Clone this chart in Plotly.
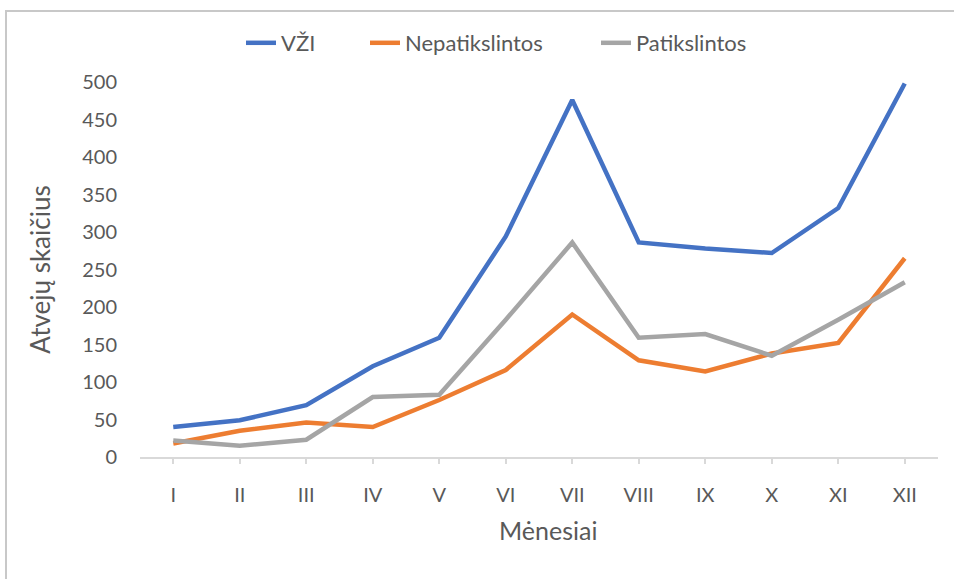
import plotly.graph_objects as go

months = ["I", "II", "III", "IV", "V", "VI", "VII", "VIII", "IX", "X", "XI", "XII"]
vzi = [40, 49, 69, 121, 159, 294, 476, 286, 278, 272, 332, 498]
nepatikslintos = [18, 35, 46, 40, 76, 116, 190, 129, 114, 138, 152, 265]
patikslintos = [22, 15, 23, 80, 83, 183, 286, 159, 164, 135, 183, 233]
y_ticks = [0, 50, 100, 150, 200, 250, 300, 350, 400, 450, 500]
series_names = ["VŽI", "Nepatikslintos", "Patikslintos"]

FONT = "Lato"
GREY_TXT = "#595959"
colors = ["#4472C4", "#ED7D31", "#A5A5A5"]
legend_ids = ["legend", "legend2", "legend3"]
legend_text_x = [281, 405, 636]  # reference pixel x where legend text starts

W, H = 954, 579
L, T = 140, 82
pw, ph = 798, 375
R, B = W - L - pw, H - T - ph

def px(x):
    return (x - L) / pw

def py(y):
    return (T + ph - y) / ph

fig = go.Figure()
for name, vals, col, lg in zip(series_names, [vzi, nepatikslintos, patikslintos], colors, legend_ids):
    fig.add_trace(go.Scatter(x=months, y=vals, name=name, mode="lines", legend=lg,
                             line=dict(color=col, width=4.5)))

legend_common = dict(orientation="h", yanchor="middle", xanchor="left",
                     font=dict(family=FONT, size=22, color=GREY_TXT),
                     bgcolor="rgba(0,0,0,0)", borderwidth=0)
legends = {}
for lg, tx in zip(legend_ids, legend_text_x):
    legends[lg] = dict(legend_common, x=px(tx - 40), y=py(43))

fig.update_layout(
    width=W, height=H,
    margin=dict(l=L, r=R, t=T, b=B),
    paper_bgcolor="white", plot_bgcolor="white",
    font=dict(family=FONT, size=20, color=GREY_TXT),
    showlegend=True,
    **legends,
    xaxis=dict(type="category", range=[-0.5, 11.5], showgrid=False, zeroline=False,
               showline=True, linecolor="#d9d9d9", linewidth=1.5,
               ticks="outside", ticklen=5, tickcolor="#d9d9d9", tickwidth=1.5,
               tickfont=dict(family=FONT, size=20, color=GREY_TXT), ticklabelstandoff=14),
    yaxis=dict(range=[0, 500], tickvals=y_ticks, showgrid=False, zeroline=False,
               showline=False, ticks="",
               tickfont=dict(family=FONT, size=20, color=GREY_TXT), ticklabelstandoff=22,
               title=dict(text="Atvejų skaičius", font=dict(family=FONT, size=26, color=GREY_TXT),
                          standoff=24)),
    annotations=[dict(text="Mėnesiai", xref="paper", yref="paper", x=px(548), y=py(530),
                      xanchor="center", yanchor="middle", showarrow=False,
                      font=dict(family=FONT, size=25, color=GREY_TXT))],
    shapes=[dict(type="rect", xref="paper", yref="paper",
                 x0=px(6), x1=px(W + 30), y0=py(H + 30), y1=py(11),
                 line=dict(color="#c8c8c8", width=2), fillcolor="rgba(0,0,0,0)", layer="below")],
)

fig.write_html("out.html", config={"displayModeBar": False},
               post_script="document.body.style.margin='0px';")
